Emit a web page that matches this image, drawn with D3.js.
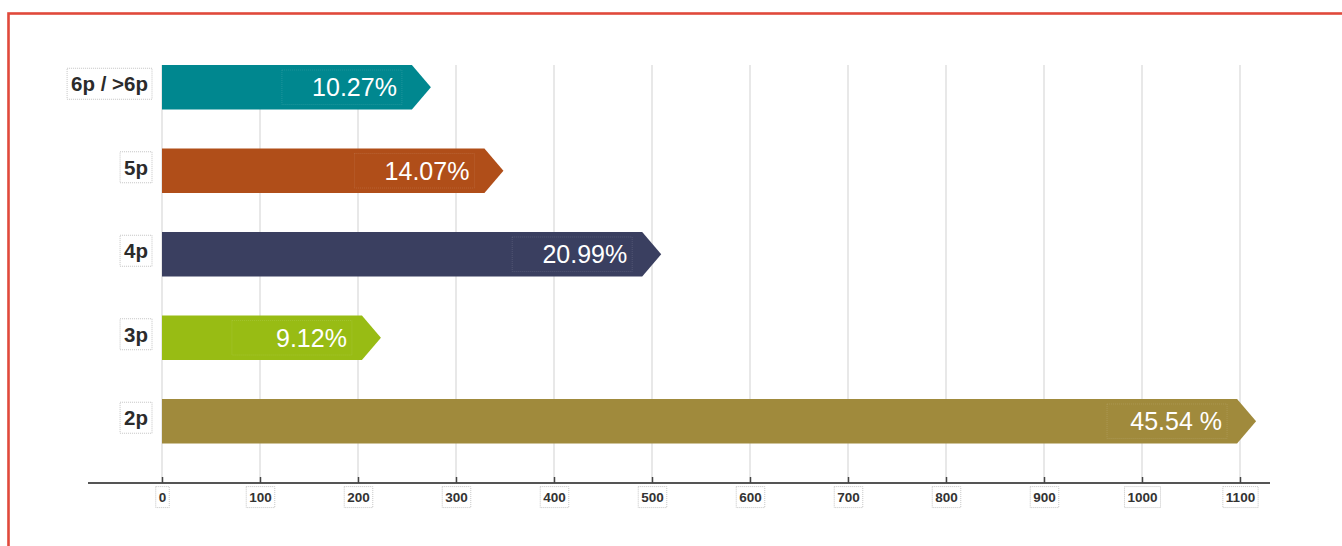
<!DOCTYPE html>
<html>
<head>
<meta charset="utf-8">
<script src="https://cdn.jsdelivr.net/npm/d3@7"></script>
<style>
  html, body { margin: 0; padding: 0; background: #fff; }
  svg { display: block; font-family: "Liberation Sans", Arial, Helvetica, sans-serif; }
</style>
</head>
<body>
<svg id="chart" width="1342" height="546"></svg>
<script>
// Household size categories, top to bottom
const categories = ['6p / >6p', '5p', '4p', '3p', '2p'];
const values = [255, 329, 490, 204, 1097];
const shares = ['10.27%', '14.07%', '20.99%', '9.12%', '45.54 %'];
const colors = ['#00878f', '#b04e19', '#3a3f60', '#98bc14', '#a08a3c'];
const ticks = [0, 100, 200, 300, 400, 500, 600, 700, 800, 900, 1000, 1100];

const svg = d3.select('#chart');

// Red frame round the chart (runs off the right and bottom edges)
svg.append('rect')
  .attr('x', 8.5)
  .attr('y', 13.5)
  .attr('width', 1400)
  .attr('height', 600)
  .attr('fill', 'none')
  .attr('stroke', '#e0493b')
  .attr('stroke-width', 2.6);

const x = d3.scaleLinear().domain([0, 1100]).range([162, 1240]);
const y = d3.scaleBand().domain(categories).range([65, 443.5]).paddingInner(0.467).paddingOuter(0);
const axisY = 483;
const arrow = 19;

// Vertical gridlines
svg.append('g')
  .selectAll('line')
  .data(ticks)
  .join('line')
  .attr('x1', d => x(d))
  .attr('x2', d => x(d))
  .attr('y1', 65)
  .attr('y2', axisY)
  .attr('stroke', '#d9d9d9')
  .attr('stroke-width', 1.2);

// Bars with arrow heads
const bars = svg.append('g')
  .selectAll('g')
  .data(categories)
  .join('g');

bars.append('path')
  .attr('d', (d, i) => {
    let y0 = y(d), h = y.bandwidth(), x0 = x(0), x1 = x(values[i]);
    return 'M' + x0 + ',' + y0 + 'H' + x1 + 'L' + (x1 + arrow) + ',' + (y0 + h / 2) +
      'L' + x1 + ',' + (y0 + h) + 'H' + x0 + 'Z';
  })
  .attr('fill', (d, i) => colors[i]);

// Faint dotted box behind each share label
bars.append('rect')
  .attr('x', (d, i) => x(values[i]) - 130)
  .attr('y', d => y(d) + 5)
  .attr('width', 120)
  .attr('height', y.bandwidth() - 10)
  .attr('fill', 'none')
  .attr('stroke', 'rgba(255,255,255,0.12)')
  .attr('stroke-dasharray', '1,1');

bars.append('text')
  .attr('x', (d, i) => x(values[i]) - 15)
  .attr('y', d => y(d) + y.bandwidth() / 2 + 9)
  .attr('text-anchor', 'end')
  .attr('fill', '#fff')
  .attr('font-size', 25)
  .text((d, i) => shares[i]);

// Category labels in dotted boxes
const labels = svg.append('g')
  .selectAll('g')
  .data(categories)
  .join('g');

labels.append('text')
  .attr('x', 148)
  .attr('y', d => y(d) + y.bandwidth() / 2 + 4)
  .attr('text-anchor', 'end')
  .attr('font-size', 20.5)
  .attr('font-weight', 'bold')
  .attr('fill', '#2b2b2b')
  .text(d => d);

labels.each(function() {
  let g = d3.select(this);
  let bb = g.select('text').node().getBBox();
  g.insert('rect', 'text')
    .attr('x', bb.x - 4)
    .attr('y', bb.y - 4)
    .attr('width', bb.width + 8)
    .attr('height', bb.height + 8)
    .attr('fill', '#fff')
    .attr('stroke', '#c4c4c4')
    .attr('stroke-dasharray', '1,1');
});

// Bottom axis
const axis = svg.append('g')
  .attr('transform', 'translate(0,' + axisY + ')')
  .call(d3.axisBottom(x).tickValues(ticks).tickSize(-6).tickPadding(9).tickFormat(d3.format('d')));

axis.select('.domain').remove();
axis.insert('line', ':first-child')
  .attr('x1', 88)
  .attr('x2', 1270)
  .attr('stroke', '#555')
  .attr('stroke-width', 1.8);
axis.selectAll('.tick line').attr('stroke', '#444').attr('stroke-width', 1.5);
axis.selectAll('.tick text')
  .attr('font-size', 13.5)
  .attr('font-weight', 'bold')
  .attr('fill', '#333')
  .attr('font-family', '"Liberation Sans", Arial, sans-serif');

axis.selectAll('.tick').each(function() {
  let g = d3.select(this);
  let bb = g.select('text').node().getBBox();
  g.insert('rect', 'text')
    .attr('x', bb.x - 3)
    .attr('y', bb.y - 3)
    .attr('width', bb.width + 6)
    .attr('height', bb.height + 6)
    .attr('fill', '#fff')
    .attr('stroke', '#c4c4c4')
    .attr('stroke-dasharray', '1,1');
});
</script>
</body>
</html>
